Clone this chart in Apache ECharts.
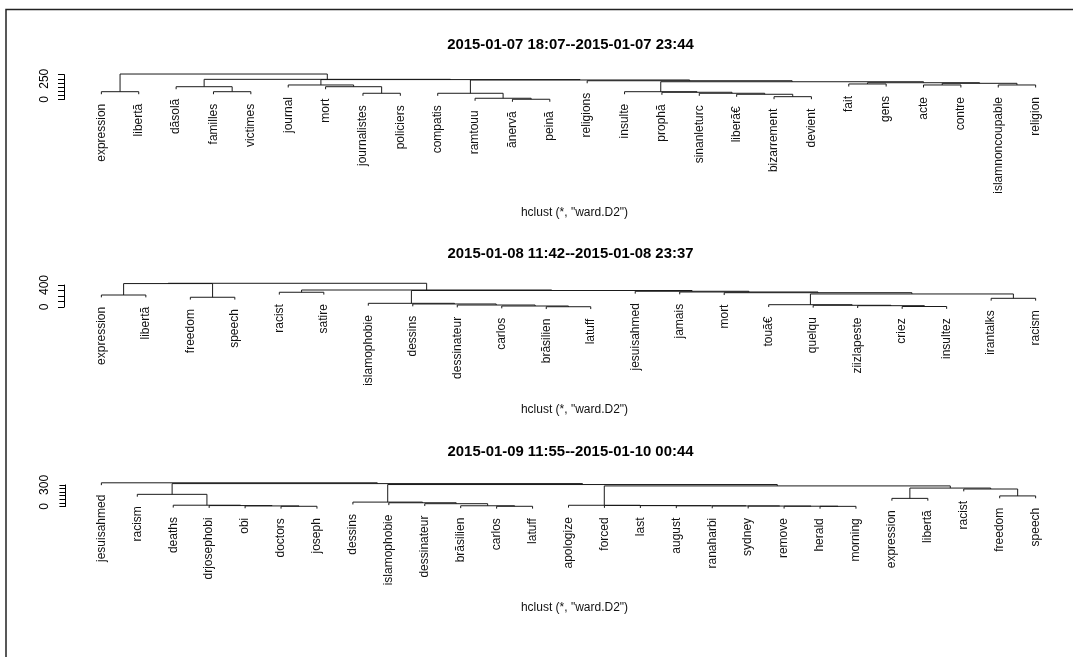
<!DOCTYPE html>
<html>
<head>
<meta charset="utf-8">
<script src="https://cdn.jsdelivr.net/npm/echarts@6/dist/echarts.min.js"></script>
<style>
  html, body { margin: 0; padding: 0; background: #fff; }
  #chart { width: 1073px; height: 657px; }
</style>
</head>
<body>
<div id="chart"></div>
<script>
// ---- Data: three hierarchical clusterings (hclust merge matrices, ward.D2) ----
// merges: [left, right, height]; negative = leaf index (1-based), positive = earlier merge row.

const title1 = '2015-01-07 18:07--2015-01-07 23:44';
const leaves1 = ['expression', 'libertã', 'dãsolã', 'familles', 'victimes', 'journal', 'mort',
  'journalistes', 'policiers', 'compatis', 'ramtouu', 'ãnervã', 'peinã', 'religions', 'insulte',
  'prophã', 'sinanleturc', 'liberã€', 'bizarrement', 'devient', 'fait', 'gens', 'acte', 'contre',
  'islamnoncoupable', 'religion'];
const merges1 = [
  [-12, -13, 3], [-11, 1, 15], [-10, 2, 75], [-8, -9, 75], [-7, 4, 154], [-6, 5, 175],
  [-4, -5, 94], [-3, 7, 154], [-1, -2, 94], [-19, -20, 34], [-18, 10, 63], [-17, 11, 75],
  [-16, 12, 87], [-15, 13, 94], [-21, -22, 187], [-23, -24, 175], [-25, -26, 175], [16, 17, 195],
  [15, 18, 202], [14, 19, 214], [-14, 20, 226], [3, 21, 235], [6, 22, 240], [8, 23, 243],
  [9, 24, 307]
];
const yTicks1 = { max: 300, step: 50, labels: [0, 250] };

const title2 = '2015-01-08 11:42--2015-01-08 23:37';
const leaves2 = ['expression', 'libertã', 'freedom', 'speech', 'racist', 'satire', 'islamophobie',
  'dessins', 'dessinateur', 'carlos', 'brãsilien', 'latuff', 'jesuisahmed', 'jamais', 'mort',
  'touã€', 'quelqu', 'ziizlapeste', 'criez', 'insultez', 'irantalks', 'racism'];
const merges2 = [
  [-11, -12, 5], [-10, 1, 18], [-9, 2, 36], [-8, 3, 55], [-7, 4, 67], [-1, -2, 218],
  [-3, -4, 177], [-5, -6, 268], [-19, -20, 9], [-18, 9, 24], [-17, 10, 31], [-16, 11, 42],
  [-21, -22, 158], [12, 13, 237], [-15, 14, 260], [-14, 15, 273], [-13, 16, 286], [5, 17, 300],
  [8, 18, 309], [6, 7, 426], [20, 19, 431]
];
const yTicks2 = { max: 400, step: 100, labels: [0, 400] };

const title3 = '2015-01-09 11:55--2015-01-10 00:44';
const leaves3 = ['jesuisahmed', 'racism', 'deaths', 'drjosephobi', 'obi', 'doctors', 'joseph',
  'dessins', 'islamophobie', 'dessinateur', 'brãsilien', 'carlos', 'latuff', 'apologize', 'forced',
  'last', 'august', 'ranaharbi', 'sydney', 'remove', 'herald', 'morning', 'expression', 'libertã',
  'racist', 'freedom', 'speech'];
const merges3 = [
  [-6, -7, 3], [-5, 1, 8], [-4, 2, 13], [-3, 3, 18], [-2, 4, 169], [-12, -13, 3], [-11, 6, 10],
  [-10, 7, 39], [-9, 8, 52], [-8, 9, 61], [-21, -22, 2], [-20, 11, 4], [-19, 12, 6], [-18, 13, 8],
  [-17, 14, 10], [-16, 15, 12], [-15, 16, 14], [-14, 17, 17], [-23, -24, 113], [-26, -27, 147],
  [-25, 20, 243], [19, 21, 256], [18, 22, 286], [10, 23, 305], [5, 24, 318], [-1, 25, 329]
];
const yTicks3 = { max: 300, step: 50, labels: [0, 300] };

const subtitle = 'hclust (*, "ward.D2")';

// ---- Layout of the three stacked panels ----
const FONT = '"Liberation Sans", Arial, Helvetica, sans-serif';
const PLOT_LEFT = 64, PLOT_WIDTH = 1021;
const panels = [
  { title: title1, leaves: leaves1, merges: merges1, ticks: yTicks1, zeroY: 99.5, pxPerUnit: 0.083, titleY: 45, subY: 213 },
  { title: title2, leaves: leaves2, merges: merges2, ticks: yTicks2, zeroY: 307, pxPerUnit: 0.055, titleY: 254, subY: 410 },
  { title: title3, leaves: leaves3, merges: merges3, ticks: yTicks3, zeroY: 506.5, pxPerUnit: 0.072, titleY: 452, subY: 608 }
];

// Dendrogram geometry in data space: leaf i sits at x = i, node x = mean of its children.
function buildTree(leaves, merges) {
  const nodeX = [];
  const leafParentH = new Array(leaves.length).fill(0);
  const heights = merges.map(m => m[2]);
  const hang = 0.1 * (Math.max(...heights) - Math.min(...heights));
  const xOf = r => (r < 0 ? -r : nodeX[r - 1]);
  merges.forEach(([a, b, h], i) => {
    nodeX[i] = (xOf(a) + xOf(b)) / 2;
    if (a < 0) leafParentH[-a - 1] = h;
    if (b < 0) leafParentH[-b - 1] = h;
  });
  const bottomOf = (r, h) => (r < 0 ? h - hang : merges[r - 1][2]);
  const links = merges.map(([a, b, h]) => [xOf(a), xOf(b), h, bottomOf(a, h), bottomOf(b, h)]);
  const tips = leaves.map((name, i) => [i + 1, leafParentH[i] - hang, name]);
  return { links, tips };
}

const grids = [], xAxes = [], yAxes = [], series = [], graphics = [];

panels.forEach((p, k) => {
  const n = p.leaves.length;
  const ext = 0.04 * (n - 1);
  const tree = buildTree(p.leaves, p.merges);
  const h = p.ticks.max * p.pxPerUnit;
  grids.push({ left: PLOT_LEFT, width: PLOT_WIDTH, top: p.zeroY - h, height: h });
  xAxes.push({ gridIndex: k, type: 'value', min: 1 - ext, max: n + ext, show: false });
  yAxes.push({
    gridIndex: k, type: 'value', min: 0, max: p.ticks.max, interval: p.ticks.step,
    splitLine: { show: false },
    axisLine: { show: true, lineStyle: { color: '#000', width: 1 } },
    axisTick: { show: true, length: 6, lineStyle: { color: '#000', width: 1 } },
    axisLabel: {
      show: true, rotate: 90, margin: 13, color: '#000', fontSize: 12, fontFamily: FONT,
      formatter: v => (p.ticks.labels.indexOf(v) >= 0 ? String(v) : '')
    }
  });

  // Branches: up from each child, across at the merge height, down to the other child.
  series.push({
    type: 'custom', xAxisIndex: k, yAxisIndex: k, silent: true, clip: false,
    data: tree.links,
    renderItem: (params, api) => {
      const xa = api.value(0), xb = api.value(1), hh = api.value(2);
      const ya = api.value(3), yb = api.value(4);
      return {
        type: 'polyline',
        shape: { points: [api.coord([xa, ya]), api.coord([xa, hh]), api.coord([xb, hh]), api.coord([xb, yb])] },
        style: { stroke: '#1a1a1a', lineWidth: 1, fill: null }
      };
    }
  });

  // Leaf labels, hanging below each leaf tip, reading upward.
  series.push({
    type: 'custom', xAxisIndex: k, yAxisIndex: k, silent: true, clip: false,
    data: tree.tips,
    renderItem: (params, api) => {
      const pt = api.coord([api.value(0), api.value(1)]);
      const name = tree.tips[params.dataIndex][2];
      return {
        type: 'text',
        x: pt[0], y: pt[1] + 9.5,
        rotation: Math.PI / 2,
        style: {
          text: name, fill: '#111', font: '12px ' + FONT,
          align: 'right', verticalAlign: 'middle',
          textAlign: 'right', textVerticalAlign: 'middle'
        }
      };
    }
  });

  graphics.push({
    type: 'text', x: PLOT_LEFT + PLOT_WIDTH / 2 - 4, y: p.titleY,
    style: { text: p.title, fill: '#000', font: 'bold 14.9px ' + FONT,
      align: 'center', verticalAlign: 'middle', textAlign: 'center', textVerticalAlign: 'middle' }
  });
  graphics.push({
    type: 'text', x: PLOT_LEFT + PLOT_WIDTH / 2, y: p.subY,
    style: { text: subtitle, fill: '#111', font: '12px ' + FONT,
      align: 'center', verticalAlign: 'middle', textAlign: 'center', textVerticalAlign: 'middle' }
  });
});

// Frame around the figure (its right and bottom edges fall outside the view).
graphics.push({
  type: 'rect', shape: { x: 6, y: 9.5, width: 3000, height: 3000 },
  style: { fill: 'none', stroke: '#222', lineWidth: 1.5 }, silent: true
});

const chart = echarts.init(document.getElementById('chart'), null, { renderer: 'canvas' });
chart.setOption({
  animation: false,
  backgroundColor: '#fff',
  grid: grids,
  xAxis: xAxes,
  yAxis: yAxes,
  series: series,
  graphic: { elements: graphics }
});
</script>
</body>
</html>
